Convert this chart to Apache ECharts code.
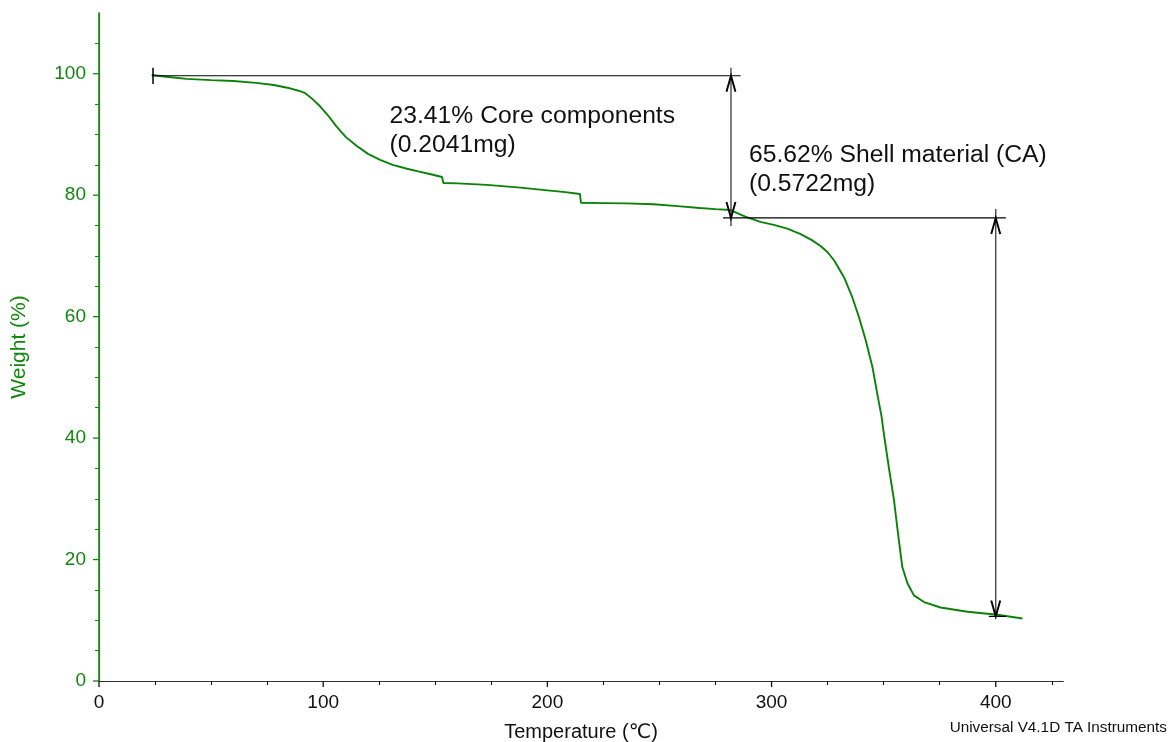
<!DOCTYPE html>
<html>
<head>
<meta charset="utf-8">
<title>TGA weight loss</title>
<script src="https://cdn.jsdelivr.net/npm/echarts@6/dist/echarts.min.js"></script>
<style>
  html, body { margin: 0; padding: 0; background: #fff; }
  #chart { width: 1169px; height: 742px; }
</style>
</head>
<body>
<div id="chart"></div>
<script>
// Thermogravimetric curve: temperature (°C) vs. remaining weight (%)
const temperature = [
  23.5, 30, 39, 50, 60, 70, 78, 84, 89, 92, 95, 98.7, 102, 106, 110, 115, 120, 125.4, 131, 137.4,
  143.3, 148, 153, 153.6, 160, 173, 188, 200, 208, 214.5, 215, 225, 235, 247.4, 258, 268, 275,
  281.7, 288, 295, 301, 307, 313, 318, 322, 325, 328, 332.3, 336, 339, 342, 345, 347.3, 349,
  350.1, 352.3, 354.6, 356.4, 358.3, 360.6, 363.5, 368, 375.4, 387.4, 400.8, 411.9
];
const weight = [
  99.8, 99.5, 99.15, 98.95, 98.8, 98.5, 98.15, 97.7, 97.2, 96.8, 95.9, 94.6, 93.2, 91.3, 89.6, 88.1, 86.8, 85.8, 85.0, 84.35,
  83.85, 83.45, 83.0, 82.0, 81.95, 81.7, 81.25, 80.8, 80.5, 80.2, 78.75, 78.7, 78.65, 78.5, 78.2, 77.9, 77.7,
  77.55, 76.5, 75.6, 75.1, 74.5, 73.6, 72.6, 71.6, 70.6, 69.2, 66.5, 63.2, 59.9, 56.1, 51.7, 47.0, 43.7,
  40.7, 35.2, 29.8, 24.3, 18.8, 16.1, 14.1, 13.0, 12.1, 11.4, 10.9, 10.3
];

// Axis ticks
const xMajorTicks = [0, 100, 200, 300, 400];
const xMinorTicks = [25, 50, 75, 125, 150, 175, 225, 250, 275, 325, 350, 375, 425];
const yMajorTicks = [0, 20, 40, 60, 80, 100];
const yMinorTicks = [5, 10, 15, 25, 30, 35, 45, 50, 55, 65, 70, 75, 85, 90, 95, 105];

// Step analysis: reference levels [T start, T end, weight %]
const referenceLevels = [
  [23.7, 286.2, 99.67],
  [278.4, 404.5, 76.26],
  [396.9, 404.5, 10.64]
];
// Start marker: [T, weight high, weight low]
const startMarker = [[24.1, 101.0, 98.3]];
// Weight-loss spans: [T, upper level, lower level]
const lossSpans = [
  [281.9, 99.67, 76.26],
  [400.0, 76.26, 10.64]
];
// Step labels, anchored at [T, weight]
const stepLabelAnchors = [
  [129.6, 95.3],
  [289.9, 88.95]
];
const stepLabelTexts = [
  ['23.41% Core components', '(0.2041mg)'],
  ['65.62% Shell material (CA)', '(0.5722mg)']
];

const curveData = temperature.map((t, i) => [t, weight[i]]);

const FONT = '"Liberation Sans", Arial, "DejaVu Sans", "Noto Sans CJK SC", sans-serif';
const GREEN = '#12870f';
const LINE_GREEN = '#0a820a';
const INK = '#111';

// extra length (px) of each span's shaft beyond its arrow tips [above, below]
const shaftOverhang = [[8, 8], [9, 0]];

// helper: an axis that only draws a set of ticks
function tickAxis(position, max, values, length, color) {
  return {
    type: 'value', position: position, min: 0, max: max,
    axisLine: { show: false },
    axisTick: { show: true, customValues: values, length: length, lineStyle: { color: color, width: 1.1 } },
    axisLabel: { show: false },
    splitLine: { show: false }
  };
}

// major tick marks: [value on x, value on y, axis flag] sitting on the axes
const majorTickMarks = xMajorTicks.map(v => [v, 0, 0]).concat(yMajorTicks.map(v => [0, v, 1]));

const chart = echarts.init(document.getElementById('chart'), null, { renderer: 'canvas' });

chart.setOption({
  animation: false,
  backgroundColor: '#fff',
  textStyle: { fontFamily: FONT },
  grid: { left: 99, right: 106, top: 13, bottom: 61, containLabel: false, outerBoundsMode: 'none' },
  xAxis: [
    {
      type: 'value', position: 'bottom', min: 0, max: 430,
      name: 'Temperature (℃)', nameLocation: 'middle', nameGap: 41,
      nameTextStyle: { fontFamily: FONT, fontSize: 20, color: INK },
      axisLine: { show: true, lineStyle: { color: '#111', width: 1 } },
      axisTick: { show: false },
      axisLabel: { show: true, customValues: xMajorTicks, margin: 12, fontSize: 19, color: INK, fontFamily: FONT },
      splitLine: { show: false }
    },
    tickAxis('bottom', 430, xMinorTicks, 4, '#111'),
    {
      type: 'value', position: 'top', min: 0, max: 430,
      axisLine: { show: true, lineStyle: { color: '#333', width: 1.2 } },
      axisTick: { show: false }, axisLabel: { show: false }, splitLine: { show: false }
    }
  ],
  yAxis: [
    {
      type: 'value', position: 'left', min: 0, max: 110,
      name: 'Weight (%)', nameLocation: 'middle', nameGap: 69,
      nameTextStyle: { fontFamily: FONT, fontSize: 21, color: GREEN },
      axisLine: { show: true, lineStyle: { color: GREEN, width: 1.2 } },
      axisTick: { show: false },
      axisLabel: { show: true, customValues: yMajorTicks, margin: 13, fontSize: 19, color: GREEN, fontFamily: FONT },
      splitLine: { show: false }
    },
    tickAxis('left', 110, yMinorTicks, 4, GREEN),
    {
      type: 'value', position: 'right', min: 0, max: 110,
      axisLine: { show: true, lineStyle: { color: GREEN, width: 1.5 } },
      axisTick: { show: false }, axisLabel: { show: false }, splitLine: { show: false }
    }
  ],
  graphic: [
    {
      type: 'text', right: 2, top: 720,
      style: { text: 'Universal V4.1D TA Instruments', font: '15.3px ' + FONT, fill: INK }
    }
  ],
  series: [
    {
      name: 'Weight', type: 'line', xAxisIndex: 0, yAxisIndex: 0,
      data: curveData, showSymbol: false, smooth: false,
      lineStyle: { color: LINE_GREEN, width: 1.9 },
      z: 2
    },
    {
      // outward major tick marks on the bottom and left axes
      name: 'majorTicks', type: 'custom', xAxisIndex: 0, yAxisIndex: 0,
      data: majorTickMarks, z: 1, clip: false, silent: true,
      renderItem: function (params, api) {
        const p = api.coord([api.value(0), api.value(1)]);
        const onY = api.value(2) === 1;
        return {
          type: 'line',
          shape: onY
            ? { x1: p[0] - 6, y1: p[1], x2: p[0], y2: p[1] }
            : { x1: p[0], y1: p[1], x2: p[0], y2: p[1] + 6 },
          style: { stroke: onY ? GREEN : '#111', lineWidth: 1.3 }
        };
      }
    },
    {
      name: 'levels', type: 'custom', xAxisIndex: 0, yAxisIndex: 0,
      data: referenceLevels, z: 3,
      renderItem: function (params, api) {
        const a = api.coord([api.value(0), api.value(2)]);
        const b = api.coord([api.value(1), api.value(2)]);
        return {
          type: 'line',
          shape: { x1: a[0], y1: a[1], x2: b[0], y2: b[1] },
          style: { stroke: '#000', lineWidth: 1.2 }
        };
      }
    },
    {
      name: 'start', type: 'custom', xAxisIndex: 0, yAxisIndex: 0,
      data: startMarker, z: 3,
      renderItem: function (params, api) {
        const a = api.coord([api.value(0), api.value(1)]);
        const b = api.coord([api.value(0), api.value(2)]);
        return {
          type: 'line',
          shape: { x1: a[0], y1: a[1], x2: b[0], y2: b[1] },
          style: { stroke: '#000', lineWidth: 1.5 }
        };
      }
    },
    {
      name: 'spans', type: 'custom', xAxisIndex: 0, yAxisIndex: 0,
      data: lossSpans, z: 4,
      renderItem: function (params, api) {
        const top = api.coord([api.value(0), api.value(1)]);
        const bot = api.coord([api.value(0), api.value(2)]);
        const ov = shaftOverhang[params.dataIndex] || [0, 0];
        const head = { stroke: '#000', lineWidth: 1.9, fill: null, lineJoin: 'miter' };
        return {
          type: 'group',
          children: [
            {
              type: 'line',
              shape: { x1: top[0], y1: top[1] - ov[0], x2: bot[0], y2: bot[1] + ov[1] },
              style: { stroke: '#3a3a3a', lineWidth: 1.3 }
            },
            {
              type: 'polyline',
              shape: { points: [[top[0] - 4.5, top[1] + 16], [top[0], top[1]], [top[0] + 4.5, top[1] + 16]] },
              style: head
            },
            {
              type: 'polyline',
              shape: { points: [[bot[0] - 4.5, bot[1] - 16], [bot[0], bot[1]], [bot[0] + 4.5, bot[1] - 16]] },
              style: head
            }
          ]
        };
      }
    },
    {
      name: 'stepLabels', type: 'custom', xAxisIndex: 0, yAxisIndex: 0,
      data: stepLabelAnchors, z: 5,
      renderItem: function (params, api) {
        const p = api.coord([api.value(0), api.value(1)]);
        return {
          type: 'text',
          x: p[0], y: p[1],
          scaleX: 1.06,
          style: {
            text: stepLabelTexts[params.dataIndex].join('\n'),
            font: '23.3px ' + FONT,
            lineHeight: 29,
            fill: INK,
            align: 'left',
            verticalAlign: 'top'
          }
        };
      }
    }
  ]
});
</script>
</body>
</html>
